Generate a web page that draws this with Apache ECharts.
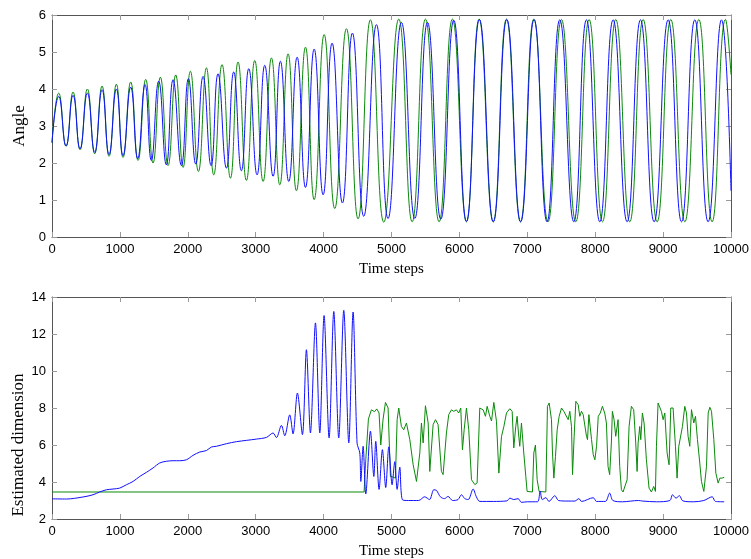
<!DOCTYPE html>
<html>
<head>
<meta charset="utf-8">
<script src="https://cdn.jsdelivr.net/npm/echarts@6/dist/echarts.min.js"></script>
<style>
html,body{margin:0;padding:0;background:#fff;}
#chart{width:751px;height:559px;}
</style>
</head>
<body>
<div id="chart"></div>
<script>
// ---- Data ----
var xTicks = [0,1000,2000,3000,4000,5000,6000,7000,8000,9000,10000];
var angleTicks = [0,1,2,3,4,5,6];
var dimTicks = [2,4,6,8,10,12,14];

// Top panel: angle, extrema of the oscillations [time step, angle]
var angleBlue = [[0,2.55],[99,3.80],[207,2.46],[310,3.83],[413,2.38],[521,3.89],[629,2.29],[737,3.98],[840,2.23],[948,4.00],[1046,2.20],[1159,4.05],[1262,2.12],[1370,4.12],[1463,2.07],[1571,4.21],[1684,1.95],[1783,4.25],[1906,1.93],[2009,4.28],[2117,1.97],[2225,4.34],[2343,1.93],[2445,4.41],[2569,1.86],[2676,4.46],[2789,1.79],[2898,4.55],[3020,1.68],[3133,4.64],[3256,1.64],[3364,4.75],[3487,1.50],[3610,4.86],[3733,1.34],[3861,5.08],[3993,1.14],[4125,5.24],[4277,0.92],[4424,5.51],[4591,0.56],[4778,5.74],[4949,0.50],[5146,5.80],[5343,0.50],[5530,5.80],[5726,0.48],[5917,5.86],[6104,0.42],[6295,5.88],[6500,0.41],[6698,5.88],[6902,0.41],[7100,5.88],[7290,0.41],[7478,5.87],[7685,0.41],[7871,5.87],[8068,0.41],[8264,5.87],[8470,0.41],[8667,5.87],[8868,0.41],[9074,5.87],[9271,0.41],[9467,5.87],[9663,0.41],[9860,5.87],[10000,1.25]];
var angleGreen = [[0,2.55],[99,3.89],[207,2.45],[310,3.92],[413,2.36],[521,4.00],[629,2.25],[737,4.08],[840,2.18],[948,4.13],[1046,2.15],[1159,4.19],[1267,2.07],[1380,4.26],[1488,2.00],[1596,4.32],[1709,1.93],[1822,4.38],[1930,1.88],[2038,4.48],[2156,1.77],[2274,4.57],[2382,1.68],[2504,4.66],[2628,1.59],[2740,4.73],[2863,1.53],[2986,4.77],[3109,1.50],[3232,4.84],[3355,1.41],[3477,4.95],[3600,1.25],[3733,5.13],[3861,1.01],[4008,5.47],[4164,0.77],[4336,5.63],[4508,0.49],[4690,5.87],[4886,0.40],[5107,5.89],[5304,0.41],[5500,5.89],[5701,0.41],[5897,5.89],[6104,0.41],[6290,5.89],[6497,0.41],[6693,5.89],[6899,0.41],[7096,5.89],[7305,0.41],[7503,5.88],[7714,0.41],[7910,5.88],[8107,0.41],[8303,5.88],[8509,0.41],[8706,5.88],[8912,0.41],[9113,5.88],[9320,0.41],[9526,5.88],[9722,0.41],[9919,5.88],[10000,4.39]];

// Bottom panel: estimated dimension [time step, dimension]
var dimBlue = [[0,3.09],[211,3.08],[457,3.19],[604,3.31],[702,3.46],[801,3.58],[899,3.62],[997,3.67],[1095,3.85],[1194,4.03],[1292,4.30],[1390,4.52],[1488,4.76],[1587,5.03],[1684,5.12],[1783,5.15],[1881,5.15],[1979,5.20],[2077,5.44],[2176,5.62],[2274,5.70],[2347,5.89],[2421,5.93],[2568,6.07],[2716,6.18],[2863,6.25],[3011,6.32],[3158,6.41],[3256,6.65],[3305,6.40],[3379,7.06],[3428,6.50],[3501,7.63],[3550,6.60],[3614,8.81],[3688,6.56],[3747,11.15],[3806,6.65],[3880,12.60],[3944,6.65],[4007,13.00],[4081,6.38],[4150,13.22],[4223,6.38],[4297,13.28],[4371,6.11],[4434,13.19],[4493,6.10],[4533,5.57],[4548,4.03],[4582,5.93],[4621,3.35],[4690,6.75],[4740,4.30],[4768,6.20],[4817,3.60],[4866,5.75],[4915,3.70],[4960,5.90],[5009,3.85],[5048,5.10],[5083,3.60],[5122,4.80],[5161,3.04],[5250,3.00],[5400,3.00],[5488,3.20],[5560,3.05],[5623,3.58],[5662,3.55],[5720,3.20],[5780,3.10],[5833,3.22],[5900,3.00],[5980,3.05],[6030,3.31],[6080,3.10],[6130,3.05],[6202,3.62],[6250,3.20],[6300,2.95],[6500,2.95],[6700,2.98],[6745,3.13],[6800,3.05],[6864,3.10],[6914,2.90],[7000,2.93],[7150,2.93],[7189,3.50],[7220,3.05],[7273,3.15],[7320,2.95],[7405,3.26],[7460,3.00],[7600,2.97],[7700,2.97],[7759,3.10],[7800,2.95],[7971,3.15],[8020,2.95],[8150,2.95],[8213,3.40],[8260,3.00],[8400,2.93],[8636,3.00],[8700,2.97],[8900,2.93],[9100,3.00],[9138,3.31],[9190,3.13],[9241,3.26],[9290,2.98],[9450,2.93],[9600,3.00],[9723,3.20],[9770,2.95],[9900,2.93]];
var dimGreen = [[0,3.46],[4596,3.46],[4621,5.20],[4660,7.40],[4704,7.90],[4750,7.80],[4783,7.95],[4817,7.73],[4842,6.00],[4876,7.40],[4911,8.30],[4950,8.00],[4984,4.30],[5020,4.27],[5058,4.21],[5083,7.37],[5107,8.00],[5146,7.00],[5180,6.82],[5220,7.19],[5270,6.28],[5319,4.93],[5368,4.03],[5417,5.57],[5441,7.19],[5466,6.11],[5500,8.12],[5540,7.19],[5564,4.57],[5613,7.10],[5648,7.37],[5686,7.10],[5735,4.57],[5760,4.40],[5809,6.65],[5843,7.64],[5883,7.90],[5917,7.82],[5956,7.90],[5990,7.73],[6020,8.00],[6045,5.74],[6070,6.82],[6104,8.00],[6138,6.82],[6178,4.12],[6227,3.86],[6261,3.95],[6300,8.00],[6350,7.90],[6384,7.55],[6409,8.09],[6448,7.55],[6473,7.30],[6507,8.30],[6546,7.28],[6581,4.48],[6620,6.46],[6655,7.00],[6693,7.73],[6742,7.96],[6777,7.82],[6801,5.84],[6830,7.00],[6850,7.55],[6870,6.65],[6889,5.93],[6914,7.19],[6948,5.57],[6978,4.30],[6997,3.49],[7076,3.46],[7096,5.57],[7120,6.00],[7145,4.12],[7174,3.49],[7273,3.46],[7297,8.09],[7322,8.27],[7356,7.37],[7371,5.57],[7391,4.21],[7415,5.39],[7440,6.82],[7469,7.55],[7504,8.00],[7538,7.82],[7567,7.82],[7602,7.37],[7626,7.82],[7651,7.00],[7666,4.40],[7690,6.47],[7715,8.36],[7749,8.18],[7773,7.55],[7798,7.82],[7823,7.64],[7847,7.73],[7872,6.47],[7887,6.29],[7907,7.64],[7926,7.00],[7946,6.29],[7971,5.48],[7995,5.20],[8020,5.93],[8045,7.55],[8075,7.73],[8106,8.09],[8140,7.73],[8165,7.19],[8189,4.84],[8213,4.40],[8238,6.11],[8253,7.82],[8278,7.37],[8302,6.47],[8322,6.38],[8337,7.37],[8361,4.84],[8386,3.58],[8410,3.46],[8435,3.46],[8470,4.12],[8499,7.00],[8533,8.09],[8567,7.91],[8597,6.11],[8617,4.57],[8632,6.11],[8656,7.00],[8671,6.29],[8695,7.73],[8720,7.19],[8754,5.20],[8793,3.67],[8828,3.46],[8862,3.76],[8887,3.49],[8902,5.93],[8926,8.27],[8951,8.23],[8975,7.82],[9000,7.37],[9025,7.73],[9059,5.57],[9088,4.93],[9113,8.00],[9147,8.00],[9182,5.93],[9206,4.21],[9231,5.93],[9256,5.93],[9285,7.00],[9319,8.09],[9344,7.73],[9368,6.47],[9393,5.93],[9418,7.91],[9452,7.19],[9477,7.55],[9506,6.29],[9540,5.03],[9565,4.03],[9600,3.49],[9639,4.84],[9664,7.73],[9688,8.04],[9713,7.82],[9747,6.29],[9777,4.48],[9811,3.94],[9836,4.21],[9870,4.21],[9900,4.26]];

var xTitle = 'Time steps';
var angleTitle = 'Angle';
var dimTitle = 'Estimated dimension';

// ---- Styling ----
var BLUE = '#1010ff';
var GREEN = '#0a8a0a';
var AXIS = '#555555';
var TICK = '#9a9a9a';
var NUMFONT = '"Liberation Sans Narrow","Liberation Sans",Arial,sans-serif';
var SERIF = '"Liberation Serif","Times New Roman",serif';

function plain(v) { return String(v); }

function xAx(grid, main) {
  return {
    type: 'value', gridIndex: grid, min: xTicks[0], max: xTicks[xTicks.length-1], interval: 1000,
    position: main ? 'bottom' : 'top',
    axisLine: {show: true, onZero: false, lineStyle: {color: AXIS, width: 1}},
    axisTick: {show: true, inside: true, length: 5, lineStyle: {color: TICK, width: 1}},
    axisLabel: {show: main, color: '#000', fontFamily: NUMFONT, fontSize: 13, margin: 6, formatter: plain},
    splitLine: {show: false},
    name: main ? xTitle : '', nameLocation: 'middle', nameGap: 25,
    nameTextStyle: {fontFamily: SERIF, fontSize: 15, color: '#000'}
  };
}
function yAx(grid, main, ticks, title, gap) {
  return {
    type: 'value', gridIndex: grid, min: ticks[0], max: ticks[ticks.length-1], interval: ticks[1]-ticks[0],
    position: main ? 'left' : 'right',
    axisLine: {show: true, onZero: false, lineStyle: {color: AXIS, width: 1}},
    axisTick: {show: true, inside: true, length: 5, lineStyle: {color: TICK, width: 1}},
    axisLabel: {show: main, color: '#000', fontFamily: NUMFONT, fontSize: 13, margin: 6, formatter: plain},
    splitLine: {show: false},
    name: main ? title : '', nameLocation: 'middle', nameGap: gap,
    nameTextStyle: {fontFamily: SERIF, fontSize: 17, color: '#000'}
  };
}
function line(data, color, xi, yi, smooth) {
  return {
    type: 'line', data: data, xAxisIndex: xi, yAxisIndex: yi,
    showSymbol: false, smooth: smooth, animation: false,
    lineStyle: {color: color, width: 1}, itemStyle: {color: color},
    emphasis: {disabled: true}
  };
}

var chart = echarts.init(document.getElementById('chart'), null, {renderer: 'canvas'});
chart.setOption({
  animation: false,
  backgroundColor: '#ffffff',
  grid: [
    {left: 52, top: 15, width: 679, height: 222, containLabel: false, outerBoundsMode: 'none'},
    {left: 52, top: 297, width: 679, height: 222, containLabel: false, outerBoundsMode: 'none'}
  ],
  xAxis: [xAx(0, true), xAx(0, false), xAx(1, true), xAx(1, false)],
  yAxis: [
    yAx(0, true, angleTicks, angleTitle, 18), yAx(0, false, angleTicks, '', 0),
    yAx(1, true, dimTicks, '', 0), yAx(1, false, dimTicks, '', 0)
  ],
  graphic: [{
    type: 'text', x: 19, y: 445, rotation: Math.PI / 2, silent: true,
    style: {text: dimTitle, fontFamily: SERIF, fontSize: 17, fill: '#000', align: 'center', verticalAlign: 'middle'}
  }],
  series: [
    line(angleGreen, GREEN, 0, 0, 0.5),
    line(angleBlue, BLUE, 0, 0, 0.5),
    line(dimGreen, GREEN, 2, 2, false),
    line(dimBlue, BLUE, 2, 2, 0.3)
  ]
});
</script>
</body>
</html>
